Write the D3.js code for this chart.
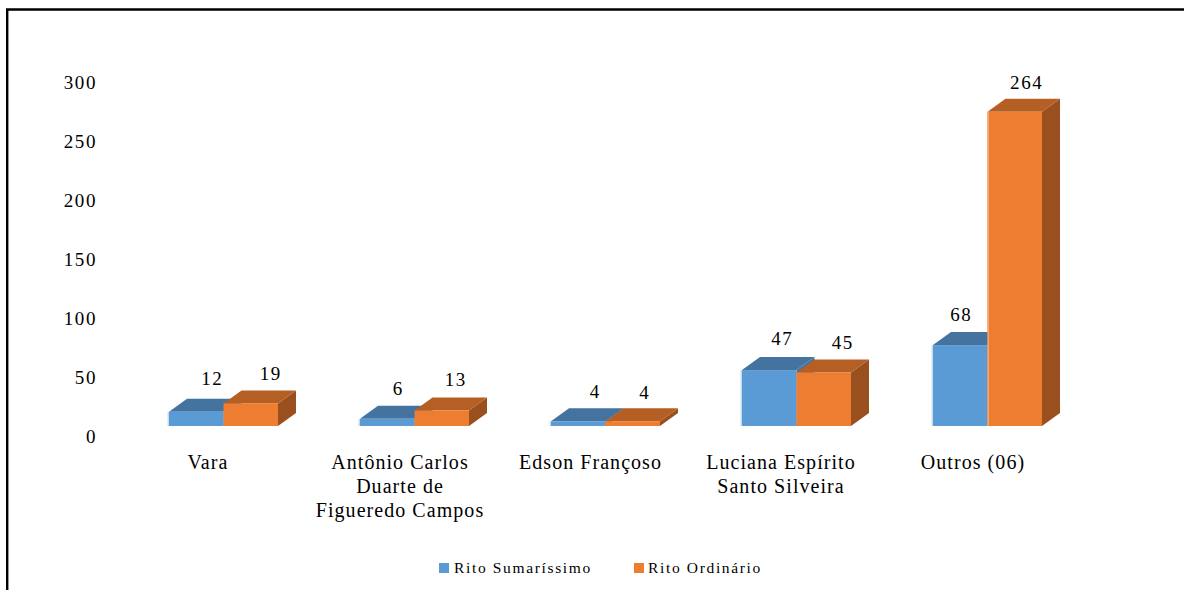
<!DOCTYPE html>
<html><head><meta charset="utf-8">
<style>
html,body{margin:0;padding:0;background:#fff;overflow:hidden}
text{font-family:"Liberation Serif",serif;fill:#000}
</style>
<script src="https://cdnjs.cloudflare.com/ajax/libs/d3/7.8.5/d3.min.js"></script>
</head><body>
<script>
const categories = ["Vara","Antônio Carlos|Duarte de|Figueredo Campos","Edson Françoso","Luciana Espírito|Santo Silveira","Outros (06)"];
const seriesNames = ["Rito Sumaríssimo","Rito Ordinário"];
const sumarissimo = [12,6,4,47,68];
const ordinario = [19,13,4,45,264];
const yTicks = [0,50,100,150,200,250,300];

const seriesColors = [
  {front:"#5B9BD5",top:"#44739F",side:"#44739F",edge:"#C5DCF0"},
  {front:"#ED7D31",top:"#B65F24",side:"#9A501E",edge:"#F4A673"}
];
// label nudges [dx, dy] around each bar
const nudgeSum = [[16,-33],[11,-30],[17,-30],[13,-32],[1,-31]];
const nudgeOrd = [[20,-30],[14,-31],[12,-29],[19,-30],[12,-29]];

const W=1184,H=590,depthX=18,depthY=13;
const svg=d3.select("body").append("svg").attr("width",W).attr("height",H).style("display","block");

// frame
svg.append("path").attr("d","M7.2,590V9.5H1184").attr("fill","none").attr("stroke","#000").attr("stroke-width",2.4);

const x=d3.scaleBand().domain(d3.range(categories.length)).range([128,1083]).paddingInner(0.4293).paddingOuter(0.2147);
const ySub=d3.scaleBand().domain([0,1]).range([0,x.bandwidth()]);
const y=d3.scaleLinear().domain([0,300]).range([426,69]);
const yAxisScale=d3.scaleLinear().domain([0,300]).range([436,82]);

// y axis labels
const ax=svg.append("g").attr("transform","translate(97,0)").call(d3.axisLeft(yAxisScale).tickValues(yTicks).tickSize(0).tickPadding(0).tickFormat(d3.format("d")));
ax.select(".domain").remove();
ax.selectAll("text").style("font-family",'"Liberation Serif",serif').style("font-size","19px").style("letter-spacing","1.6px").attr("fill","#000").attr("dy","0.32em");

const groups=svg.selectAll("g.grp").data(categories).join("g").attr("class","grp")
  .attr("transform",(d,i)=>`translate(${x(i)},0)`);

const tallest=d3.max(ordinario);
[sumarissimo,ordinario].forEach((vals,s)=>{
  const c=seriesColors[s], w=ySub.bandwidth();
  groups.each(function(d,i){
    const g=d3.select(this), x0=ySub(s), x1=x0+w, yt=y(vals[i]), yb=y(0);
    g.append("path").attr("fill",c.side).attr("d",`M${x1},${yt}L${x1+depthX},${yt-depthY}V${yb-depthY}L${x1},${yb}Z`);
    g.append("path").attr("fill",c.top).attr("d",`M${x0},${yt}L${x0+depthX},${yt-depthY}H${x1+depthX}L${x1},${yt}Z`);
    g.append("rect").attr("x",x0).attr("y",yt).attr("width",w).attr("height",yb-yt).attr("fill",c.front);
    if(s===0){
      g.append("rect").attr("x",x0-1.5).attr("y",yt).attr("width",1.5).attr("height",yb-yt).attr("fill",c.edge);
    } else if(vals[i]===tallest){
      g.append("rect").attr("x",x0).attr("y",yt).attr("width",1.5).attr("height",yb-yt).attr("fill",c.edge);
    }
  });
});

// value labels
[[sumarissimo,nudgeSum],[ordinario,nudgeOrd]].forEach(([vals,nudge],s)=>{
  groups.append("text").attr("text-anchor","middle").attr("dominant-baseline","central")
    .attr("x",(d,i)=>ySub(s)+ySub.bandwidth()/2+nudge[i][0])
    .attr("y",(d,i)=>y(vals[i])+nudge[i][1])
    .style("font-size","19px").style("letter-spacing","1.6px")
    .text((d,i)=>vals[i]);
});

// category labels
const catCenters=[208,400,590.5,781,973];
categories.forEach((c,i)=>{
  const t=svg.append("text").attr("text-anchor","middle").style("font-size","20px").style("letter-spacing","1.05px");
  c.split("|").forEach((ln,k)=>t.append("tspan").attr("x",catCenters[i]).attr("y",469+k*24).text(ln));
});

// legend
const legX=[439,634];
seriesNames.forEach((n,i)=>{
  svg.append("rect").attr("x",legX[i]).attr("y",563).attr("width",10).attr("height",10).attr("fill",seriesColors[i].front);
  svg.append("text").attr("x",legX[i]+(i?14:15)).attr("y",573).style("font-size","15.5px").style("letter-spacing","1.65px").text(n);
});
</script>
</body></html>
